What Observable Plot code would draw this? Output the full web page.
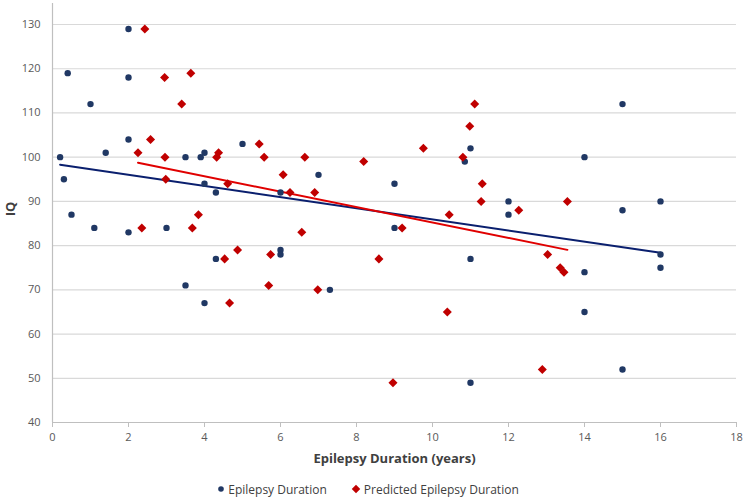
<!DOCTYPE html>
<html><head><meta charset="utf-8">
<script src="https://cdn.jsdelivr.net/npm/d3@7"></script>
<script src="https://cdn.jsdelivr.net/npm/@observablehq/plot@0.6"></script>
<style>
body{margin:0;background:#fff;font-family:"Open Sans",sans-serif;}
#legend{display:flex;justify-content:center;align-items:center;gap:24px;height:26px;font-size:12px;color:#404040;font-family:"Open Sans",sans-serif;padding-right:10px;}
#legend span.item{display:flex;align-items:center;gap:3px;}
</style></head><body><div id="chart"></div><div id="legend"></div><script>
const seriesNames = ["Epilepsy Duration", "Predicted Epilepsy Duration"];
const durationX  = [0.2,0.3,0.4,0.5,1,1.1,1.4,2,2,2,2,3,3.5,3.5,3.9,4,4,4,4.3,4.3,5,6,6,6,7,7.3,9,9,10.85,11,11,11,12,12,14,14,14,15,15,15,16,16,16];
const durationIQ = [100,95,119,87,112,84,101,129,118,104,83,84,100,71,100,101,94,67,92,77,103,92,79,78,96,70,94,84,99,102,77,49,90,87,100,74,65,112,88,52,90,78,75];
const predictedX  = [2.25,2.35,2.43,2.58,2.95,2.96,2.98,3.4,3.64,3.68,3.84,4.32,4.37,4.53,4.61,4.66,4.87,5.44,5.57,5.69,5.74,6.07,6.25,6.56,6.64,6.9,6.98,8.19,8.59,8.96,9.2,9.76,10.39,10.44,10.8,10.98,11.11,11.28,11.31,12.27,12.89,13.03,13.36,13.46,13.55];
const predictedIQ = [101,84,129,104,118,100,95,112,119,84,87,100,101,77,94,67,79,103,100,71,78,96,92,83,100,92,70,99,77,49,84,102,65,87,100,107,112,90,94,88,52,78,75,74,90];
const xTicks = [0,2,4,6,8,10,12,14,16,18];
const yTicks = [40,50,60,70,80,90,100,110,120,130];
const dotColor = "#203864", lineBlue = "#0a1f6e", diamondColor = "#c00000", lineRed = "#e00000";

const blueRows = durationX.map((x,i)=>({x, y: durationIQ[i]}));
const redRows = predictedX.map((x,i)=>({x, y: predictedIQ[i]}));

const chart = Plot.plot({
  width: 746, height: 476,
  marginLeft: 52, marginRight: 10, marginTop: 3, marginBottom: 54,
  style: {fontFamily: "'Open Sans', sans-serif", fontSize: "11px", color: "#595959", background: "#fff"},
  x: {domain: [0, 18]},
  y: {domain: [40, 134.75]},
  marks: [
    Plot.gridY(yTicks, {stroke: "#d9d9d9", strokeOpacity: 1, strokeWidth: 1.2}),
    Plot.ruleY([40], {stroke: "#bfbfbf", strokeWidth: 1.2}),
    Plot.ruleX([0], {stroke: "#bfbfbf", strokeWidth: 1.2}),
    Plot.axisX(xTicks, {tickSize: 5, tickPadding: 6, stroke: "#bfbfbf", fill: "#595959", label: null, tickFormat: d => d}),
    Plot.axisY(yTicks, {tickSize: 0, tickPadding: 12, fill: "#595959", label: null, tickFormat: d => d}),
    Plot.text([seriesNames[0] + " (years)"], {frameAnchor: "bottom", dy: 40, fontWeight: "bold", fontSize: 13, fill: "#404040"}),
    Plot.text(["IQ"], {frameAnchor: "left", dx: -42, dy: -4, rotate: -90, textAnchor: "middle", fontWeight: "bold", fontSize: 13, fill: "#404040"}),
    Plot.linearRegressionY(blueRows, {x: "x", y: "y", stroke: lineBlue, strokeWidth: 2, ci: 0}),
    Plot.linearRegressionY(redRows, {x: "x", y: "y", stroke: lineRed, strokeWidth: 2, ci: 0}),
    Plot.dot(blueRows, {x: "x", y: "y", r: 3.2, fill: dotColor}),
    Plot.dot(redRows, {x: "x", y: "y", symbol: "square", rotate: 45, r: 3.6, fill: diamondColor})
  ]
});
document.getElementById("chart").appendChild(chart);

const legend = document.getElementById("legend");
const markers = [
  `<svg width="8" height="10"><circle cx="4" cy="5" r="2.8" fill="${dotColor}"/></svg>`,
  `<svg width="10" height="10"><rect x="2" y="2" width="6" height="6" fill="${diamondColor}" transform="rotate(45 5 5)"/></svg>`
];
seriesNames.forEach((name, i) => {
  const s = document.createElement("span");
  s.className = "item";
  s.innerHTML = markers[i] + `<span>${name}</span>`;
  legend.appendChild(s);
});
</script></body></html>
